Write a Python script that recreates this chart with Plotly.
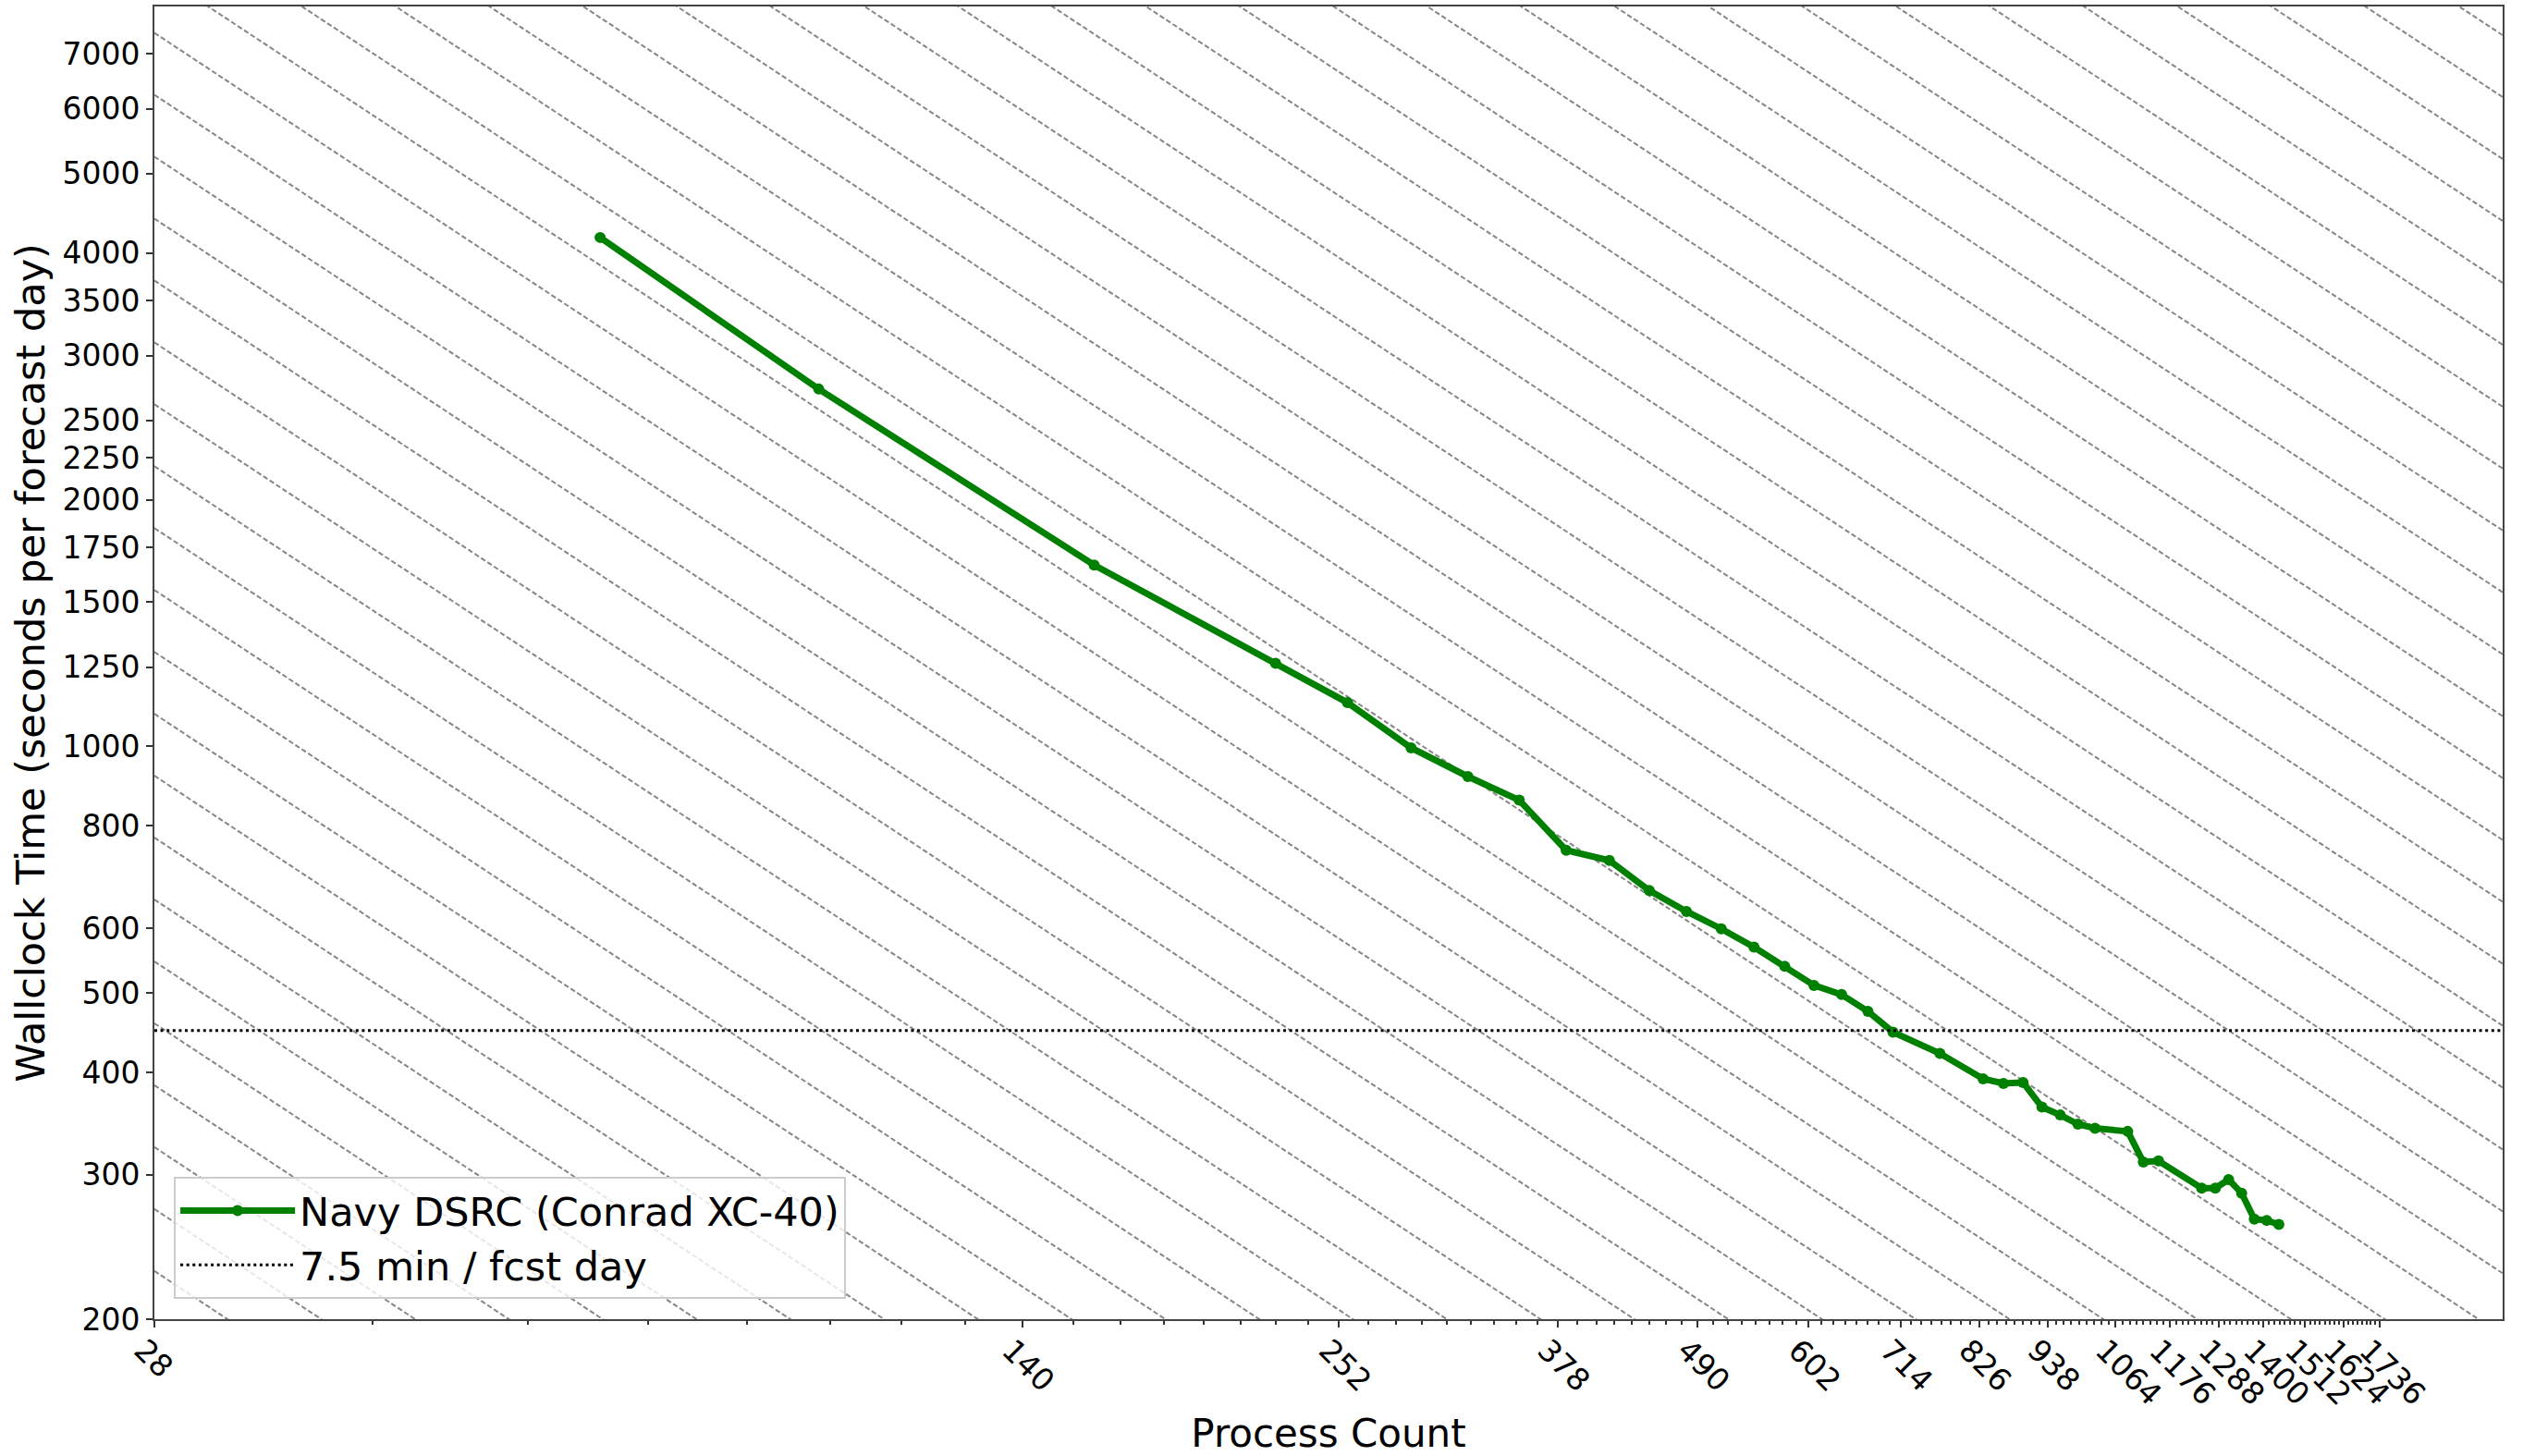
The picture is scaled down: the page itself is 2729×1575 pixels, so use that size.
import math
import plotly.graph_objects as go

# Strong-scaling measurements: process count vs. wallclock seconds per forecast day
procs = [64, 96, 160, 224, 256, 288, 320, 352, 384, 416, 448, 480, 512, 544, 576,
         608, 640, 672, 704, 768, 832, 864, 896, 928, 960, 992, 1024, 1088, 1120,
         1152, 1248, 1280, 1312, 1344, 1376, 1408, 1440]
wallclock = [4180, 2730, 1665, 1263, 1131, 996, 919, 860, 747, 726, 667, 629, 599,
             569, 539, 511, 498, 475, 448, 422, 393, 388, 389, 363, 355, 346, 342,
             339, 311, 312, 289, 289, 296, 285, 265, 264, 261]

# Operational target: 7.5 minutes per forecast day
target_seconds = 450

# Axis ticks
x_tick_vals = [28, 140, 252, 378, 490, 602, 714, 826, 938, 1064, 1176, 1288, 1400,
               1512, 1624, 1736]
x_minor_vals = list(range(28, 1737, 14))
y_tick_vals = [200, 300, 400, 500, 600, 800, 1000, 1250, 1500, 1750, 2000, 2250,
               2500, 3000, 3500, 4000, 5000, 6000, 7000]

x_lo, x_hi = 28, 2181
y_lo, y_hi = 200, 8000

# Ideal-scaling guide lines: time * procs = const, constants in a geometric ladder
guide_base = 12860
guide_step = 1.19

FONT = "DejaVu Sans"

fig = go.Figure()

# ideal-scaling guides (slope -1 in log-log space)
gx, gy = [], []
k = -8
while True:
    c = guide_base * guide_step ** k
    if c / x_hi > y_hi:
        break
    if c / x_lo >= y_lo * 0.5:
        gx += [x_lo, x_hi, None]
        gy += [c / x_lo, c / x_hi, None]
    k += 1
fig.add_trace(go.Scatter(
    x=gx, y=gy, mode="lines", showlegend=False, hoverinfo="skip",
    line=dict(color="rgba(128,128,128,0.95)", width=2, dash="5.5px,2.8px"),
))

fig.add_trace(go.Scatter(
    x=procs, y=wallclock, mode="lines+markers",
    name="Navy DSRC (Conrad XC-40)",
    line=dict(color="#008000", width=7),
    marker=dict(color="#008000", size=12),
))

fig.add_trace(go.Scatter(
    x=[x_lo, x_hi], y=[target_seconds, target_seconds], mode="lines",
    name="7.5 min / fcst day",
    line=dict(color="black", width=3, dash="3px,3.6px"),
))

axis_line = dict(showline=True, linecolor="#444444", linewidth=2, mirror=True,
                 showgrid=False, zeroline=False)

fig.update_xaxes(
    type="log", range=[math.log10(x_lo), math.log10(x_hi)],
    tickmode="array", tickvals=x_tick_vals,
    ticktext=[str(v) for v in x_tick_vals],
    ticks="outside", ticklen=7, tickwidth=2, tickcolor="#333333",
    tickangle=45, ticklabelshift=-12, ticklabelstandoff=-8,
    tickfont=dict(family=FONT, size=33, color="black"),
    minor=dict(tickmode="array", tickvals=x_minor_vals, ticks="outside",
               ticklen=4, tickwidth=1.5, tickcolor="#333333", showgrid=False),
    title=dict(text="Process Count", font=dict(family=FONT, size=42, color="black"),
               standoff=10),
    **axis_line,
)

fig.update_yaxes(
    type="log", range=[math.log10(y_lo), math.log10(y_hi)],
    tickmode="array", tickvals=y_tick_vals,
    ticktext=[str(v) for v in y_tick_vals],
    ticks="outside", ticklen=7, tickwidth=2, tickcolor="#333333",
    tickfont=dict(family=FONT, size=33, color="black"),
    title=dict(text="Wallclock Time (seconds per forecast day)",
               font=dict(family=FONT, size=43, color="black"), standoff=5),
    **axis_line,
)

fig.update_layout(
    width=2729, height=1575, autosize=False,
    margin=dict(l=167, r=22, t=7, b=148, autoexpand=False),
    plot_bgcolor="white", paper_bgcolor="white",
    font=dict(family=FONT, size=33, color="black"),
    legend=dict(
        x=0.0083, y=0.0155, xanchor="left", yanchor="bottom",
        bgcolor="rgba(255,255,255,0.8)", bordercolor="#cccccc", borderwidth=2,
        font=dict(family=FONT, size=43, color="black"),
        itemwidth=124, tracegroupgap=0,
    ),
)

fig.write_html("out.html")
